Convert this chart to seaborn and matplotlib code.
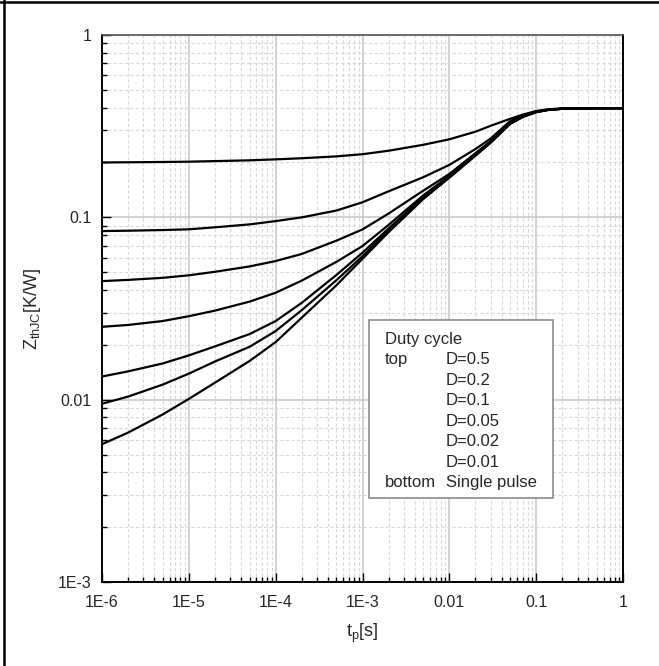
import numpy as np
import pandas as pd
import matplotlib
matplotlib.use("Agg")
import matplotlib.pyplot as plt
import seaborn as sns
from matplotlib.lines import Line2D
from matplotlib.patches import Rectangle
from matplotlib.ticker import LogLocator, FixedLocator, FixedFormatter, NullFormatter

# pulse duration t_p [s]
tp = [1e-6, 2e-6, 5e-6, 1e-5, 2e-5, 5e-5, 1e-4, 2e-4, 5e-4, 1e-3, 2e-3, 5e-3,
      1e-2, 2e-2, 3e-2, 5e-2, 7e-2, 0.1, 0.14, 0.2, 0.3, 0.5, 1.0]

# Z_thJC [K/W], one list per duty cycle
z_d05 = [0.200, 0.2005, 0.2012, 0.202, 0.2035, 0.2055, 0.208, 0.211, 0.216, 0.222, 0.232, 0.250,
         0.268, 0.295, 0.318, 0.347, 0.366, 0.383, 0.392, 0.395, 0.396, 0.397, 0.397]
z_d02 = [0.0841, 0.0845, 0.0852, 0.0860, 0.0882, 0.0915, 0.0954, 0.1000, 0.1090, 0.121, 0.139, 0.166,
         0.194, 0.237, 0.271, 0.337, 0.362, 0.381, 0.391, 0.395, 0.396, 0.397, 0.397]
z_d01 = [0.0447, 0.0454, 0.0466, 0.0481, 0.0503, 0.0538, 0.0576, 0.0630, 0.0745, 0.0859, 0.105, 0.140,
         0.173, 0.225, 0.262, 0.330, 0.359, 0.380, 0.390, 0.394, 0.396, 0.397, 0.397]
z_d005 = [0.0251, 0.0257, 0.0270, 0.0287, 0.0308, 0.0345, 0.0386, 0.0450, 0.0570, 0.0696, 0.0910, 0.132,
          0.169, 0.222, 0.260, 0.328, 0.358, 0.379, 0.390, 0.394, 0.396, 0.397, 0.397]
z_d002 = [0.0134, 0.0143, 0.0158, 0.0175, 0.0196, 0.0229, 0.0270, 0.0340, 0.0483, 0.0640, 0.0870, 0.129,
          0.167, 0.220, 0.259, 0.327, 0.357, 0.379, 0.389, 0.394, 0.396, 0.397, 0.397]
z_d001 = [0.0095, 0.0104, 0.0121, 0.0139, 0.0162, 0.0195, 0.0238, 0.0310, 0.0452, 0.0612, 0.0848, 0.127,
          0.166, 0.219, 0.258, 0.326, 0.356, 0.378, 0.389, 0.394, 0.396, 0.397, 0.397]
z_single = [0.0057, 0.0066, 0.0083, 0.0101, 0.0124, 0.0163, 0.0207, 0.0282, 0.0424, 0.0593, 0.083, 0.126,
            0.165, 0.218, 0.257, 0.325, 0.355, 0.377, 0.389, 0.394, 0.396, 0.397, 0.397]

series_names = ["D=0.5", "D=0.2", "D=0.1", "D=0.05", "D=0.02", "D=0.01", "Single pulse"]
series_vals = [z_d05, z_d02, z_d01, z_d005, z_d002, z_d001, z_single]

x_ticks = [1e-6, 1e-5, 1e-4, 1e-3, 1e-2, 0.1, 1]
x_labels = ["1E-6", "1E-5", "1E-4", "1E-3", "0.01", "0.1", "1"]
y_ticks = [1e-3, 1e-2, 0.1, 1]
y_labels = ["1E-3", "0.01", "0.1", "1"]

legend_left = ["Duty cycle", "top", "", "", "", "", "", "bottom"]
legend_right = ["", "D=0.5", "D=0.2", "D=0.1", "D=0.05", "D=0.02", "D=0.01", "Single pulse"]

rows = []
for name, vals in zip(series_names, series_vals):
    for t, z in zip(tp, vals):
        rows.append({"tp": t, "Z": z, "curve": name})
df = pd.DataFrame(rows)

sns.set_style("ticks")
plt.rcParams["font.family"] = ["Liberation Sans", "DejaVu Sans"]
plt.rcParams["mathtext.fontset"] = "custom"
plt.rcParams["mathtext.rm"] = "Liberation Sans"
plt.rcParams["mathtext.it"] = "Liberation Sans:italic"

fig = plt.figure(figsize=(6.59, 6.66), dpi=100)
ax = fig.add_axes([0.1548, 0.1261, 0.7906, 0.8213])

sns.lineplot(data=df, x="tp", y="Z", hue="curve", palette=["black"] * 7,
             linewidth=1.6, legend=False, ax=ax, sort=False)

ax.set_xscale("log")
ax.set_yscale("log")
ax.set_xlim(1e-6, 1)
ax.set_ylim(1e-3, 1)

# grid: solid majors, dashed minors
ax.grid(which="major", color="#c6c6c6", linewidth=1.1, linestyle="-")
ax.grid(which="minor", color="#d8d8d8", linewidth=0.8, linestyle=(0, (3, 2)))
ax.set_axisbelow(True)

ax.xaxis.set_major_locator(FixedLocator(x_ticks))
ax.xaxis.set_major_formatter(FixedFormatter(x_labels))
ax.xaxis.set_minor_locator(LogLocator(base=10, subs=np.arange(2, 10)))
ax.xaxis.set_minor_formatter(NullFormatter())
ax.yaxis.set_major_locator(FixedLocator(y_ticks))
ax.yaxis.set_major_formatter(FixedFormatter(y_labels))
ax.yaxis.set_minor_locator(LogLocator(base=10, subs=np.arange(2, 10)))
ax.yaxis.set_minor_formatter(NullFormatter())

ax.tick_params(which="major", direction="in", length=6.5, width=1.0, labelsize=11.5,
               top=False, right=False, color="black")
ax.tick_params(which="minor", direction="in", length=3.8, width=1.0,
               top=False, right=False, color="black")
ax.tick_params(axis="x", which="major", pad=9)
ax.tick_params(axis="y", which="major", pad=7.5)

for side in ["left", "bottom", "right"]:
    ax.spines[side].set_color("black")
    ax.spines[side].set_linewidth(1.4)
ax.spines["top"].set_color("#555555")
ax.spines["top"].set_linewidth(1.2)

ax.set_xlabel(r"t$_{\mathrm{p}}$[s]", fontsize=13)
ax.set_ylabel(r"Z$_{\mathrm{thJC}}$[K/W]", fontsize=13)
ax.xaxis.set_label_coords(0.5, -0.073)
ax.yaxis.set_label_coords(-0.113, 0.5)

# legend box drawn as text block
ax.add_patch(Rectangle((0.5125, 0.1536), 0.3531, 0.3254, transform=ax.transAxes,
                       facecolor="white", edgecolor="#8c8c8c", linewidth=1.2, zorder=5))
row_px = [337.5, 358, 378.5, 399, 419.5, 440, 460.5, 481]
for py, left, right in zip(row_px, legend_left, legend_right):
    yy = (582 - py) / 547
    ax.text(0.543, yy, left, transform=ax.transAxes, fontsize=12,
            va="center_baseline", ha="left", zorder=6)
    ax.text(0.660, yy, right, transform=ax.transAxes, fontsize=12,
            va="center_baseline", ha="left", zorder=6)

# outer frame lines (top and left edge of the picture)
fig.add_artist(Line2D([0, 1], [0.9965, 0.9965], transform=fig.transFigure,
                      color="black", linewidth=1.8))
fig.add_artist(Line2D([0.0068, 0.0068], [0, 1], transform=fig.transFigure,
                      color="black", linewidth=1.8))

fig.savefig("out.png", dpi=100)
